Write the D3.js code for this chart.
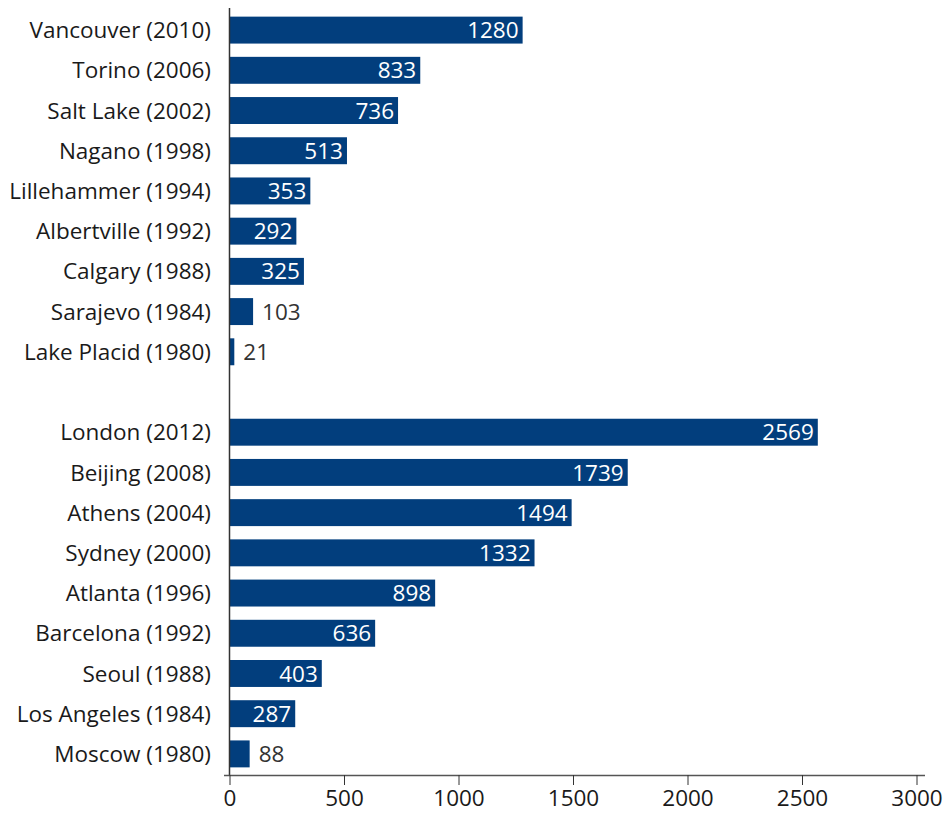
<!DOCTYPE html>
<html>
<head>
<meta charset="utf-8">
<script src="https://cdn.jsdelivr.net/npm/d3@7"></script>
<style>
  body { margin: 0; background: #fff; }
  svg text { font-family: "Open Sans", "DejaVu Sans", sans-serif; }
</style>
</head>
<body>
<svg width="946" height="818"></svg>
<script>
// rows, top to bottom; "" is the blank row between winter and summer games
var cities = ['Vancouver (2010)', 'Torino (2006)', 'Salt Lake (2002)', 'Nagano (1998)',
  'Lillehammer (1994)', 'Albertville (1992)', 'Calgary (1988)', 'Sarajevo (1984)',
  'Lake Placid (1980)', '',
  'London (2012)', 'Beijing (2008)', 'Athens (2004)', 'Sydney (2000)', 'Atlanta (1996)',
  'Barcelona (1992)', 'Seoul (1988)', 'Los Angeles (1984)', 'Moscow (1980)'];
var values = [1280, 833, 736, 513, 353, 292, 325, 103, 21, null,
  2569, 1739, 1494, 1332, 898, 636, 403, 287, 88];
var xTicks = [0, 500, 1000, 1500, 2000, 2500, 3000];

var data = cities.map(function(c, i){ return { name: c, key: 'r' + i, value: values[i] }; });

var svg = d3.select('svg');
var barColor = '#023e7d';
var fontSize = '22.5px';

var xScale = d3.scaleLinear().domain([0, 3000]).range([229.5, 916.5]);
var yScale = d3.scaleBand().domain(data.map(function(d){ return d.key; }))
  .range([10, 774]).paddingInner(0.33).paddingOuter(0.165);

/**
 * Bars
 */
var rows = data.filter(function(d){ return d.value !== null; });

svg.selectAll('rect.bar')
  .data(rows)
  .enter()
  .append('rect')
  .attr('class', 'bar')
  .attr('x', xScale(0))
  .attr('y', function(d){ return yScale(d.key); })
  .attr('width', function(d){ return xScale(d.value) - xScale(0); })
  .attr('height', yScale.bandwidth())
  .attr('fill', barColor);

// value labels: inside the bar when it fits, else just after it
svg.selectAll('text.val')
  .data(rows)
  .enter()
  .append('text')
  .attr('class', 'val')
  .attr('x', function(d){ return d.value > 200 ? xScale(d.value) - 4 : xScale(d.value) + 9; })
  .attr('y', function(d){ return yScale(d.key) + yScale.bandwidth() / 2; })
  .attr('dy', '0.36em')
  .attr('text-anchor', function(d){ return d.value > 200 ? 'end' : 'start'; })
  .attr('fill', function(d){ return d.value > 200 ? '#fff' : '#333'; })
  .style('font-size', fontSize)
  .text(function(d){ return d.value; });

/**
 * Category labels
 */
svg.selectAll('text.cat')
  .data(rows)
  .enter()
  .append('text')
  .attr('class', 'cat')
  .attr('x', 211)
  .attr('y', function(d){ return yScale(d.key) + yScale.bandwidth() / 2; })
  .attr('dy', '0.36em')
  .attr('text-anchor', 'end')
  .attr('fill', '#1a1a1a')
  .style('font-size', fontSize)
  .text(function(d){ return d.name; });

/**
 * Axes
 */
svg.append('line')
  .attr('x1', 229.5).attr('x2', 229.5)
  .attr('y1', 8).attr('y2', 775)
  .attr('stroke', '#333').attr('stroke-width', 1.5);

var xAxis = d3.axisBottom(xScale).tickValues(xTicks).tickFormat(d3.format('d'))
  .tickSize(10).tickSizeOuter(0);
var gx = svg.append('g')
  .attr('class', 'x-axis')
  .attr('transform', 'translate(0,775)')
  .call(xAxis);
gx.select('.domain').attr('d', 'M224,0.5H925').attr('stroke', '#555').attr('stroke-width', 1.5);
gx.selectAll('.tick line').attr('stroke', '#333');
gx.selectAll('.tick text')
  .attr('fill', '#1a1a1a')
  .attr('y', 15)
  .style('font-size', fontSize)
  .style('font-family', '"Open Sans", sans-serif');
</script>
</body>
</html>
